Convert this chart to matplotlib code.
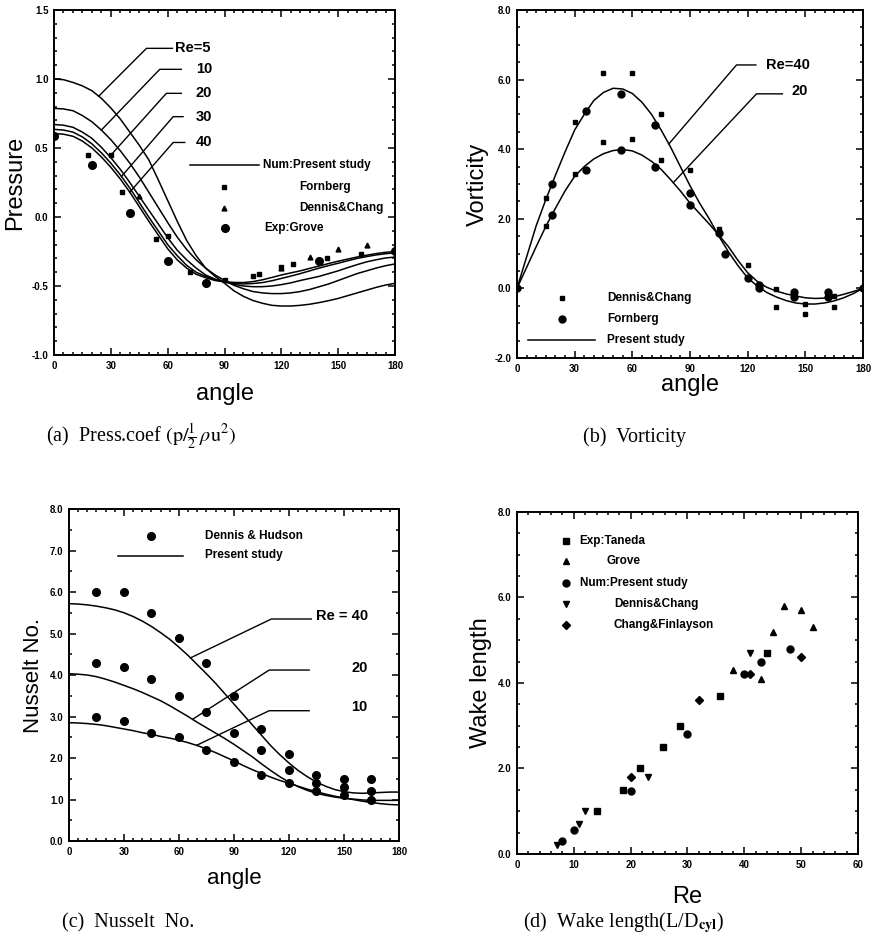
import matplotlib
matplotlib.use("Agg")
import matplotlib.pyplot as plt
from matplotlib.ticker import MultipleLocator, FormatStrFormatter
import numpy as np

plt.rcParams['font.family'] = ['Liberation Sans', 'DejaVu Sans']
plt.rcParams['mathtext.fontset'] = 'stix'

# angle grid used for all curves (every 5 deg)
angle = [0, 5, 10, 15, 20, 25, 30, 35, 40, 45, 50, 55, 60, 65, 70, 75, 80, 85, 90,
         95, 100, 105, 110, 115, 120, 125, 130, 135, 140, 145, 150, 155, 160, 165, 170, 175, 180]

# ---------------- (a) pressure coefficient ----------------
cp_labels = ['Re=5', '10', '20', '30', '40']
cp_re5 = [1.0, 0.995, 0.975, 0.95, 0.915, 0.86, 0.79, 0.71, 0.615, 0.52, 0.415, 0.27, 0.12, -0.03, -0.17, -0.28, -0.37, -0.43, -0.48,
          -0.535, -0.575, -0.605, -0.625, -0.64, -0.645, -0.645, -0.64, -0.632, -0.62, -0.606, -0.59, -0.57, -0.55, -0.53, -0.51, -0.493, -0.48]
cp_re10 = [0.787, 0.783, 0.77, 0.735, 0.69, 0.63, 0.56, 0.48, 0.39, 0.29, 0.18, 0.07, -0.04, -0.145, -0.235, -0.31, -0.37, -0.42, -0.46,
           -0.495, -0.52, -0.54, -0.55, -0.555, -0.555, -0.55, -0.54, -0.525, -0.505, -0.485, -0.46, -0.435, -0.41, -0.39, -0.37, -0.353, -0.34]
cp_re20 = [0.67, 0.665, 0.65, 0.615, 0.57, 0.505, 0.43, 0.345, 0.25, 0.15, 0.05, -0.05, -0.15, -0.24, -0.31, -0.37, -0.42, -0.45, -0.47,
           -0.488, -0.50, -0.505, -0.505, -0.50, -0.49, -0.477, -0.46, -0.445, -0.43, -0.41, -0.39, -0.367, -0.345, -0.325, -0.31, -0.297, -0.29]
cp_re30 = [0.635, 0.63, 0.615, 0.58, 0.53, 0.465, 0.39, 0.305, 0.21, 0.105, 0.0, -0.10, -0.20, -0.28, -0.35, -0.40, -0.43, -0.455, -0.47,
           -0.48, -0.485, -0.482, -0.475, -0.462, -0.445, -0.428, -0.41, -0.39, -0.37, -0.352, -0.335, -0.317, -0.30, -0.287, -0.275, -0.266, -0.26]
cp_re40 = [0.605, 0.60, 0.585, 0.55, 0.50, 0.435, 0.36, 0.275, 0.18, 0.075, -0.03, -0.13, -0.23, -0.31, -0.37, -0.415, -0.44, -0.46, -0.47,
           -0.474, -0.475, -0.468, -0.455, -0.438, -0.42, -0.405, -0.39, -0.372, -0.355, -0.337, -0.32, -0.305, -0.29, -0.277, -0.265, -0.256, -0.25]

forn_a_x = [18, 30, 36, 54, 60, 72, 90, 105, 108, 120, 126, 144, 162]
forn_a_y = [0.45, 0.45, 0.18, -0.16, -0.14, -0.40, -0.46, -0.43, -0.41, -0.36, -0.34, -0.30, -0.27]
dc_a_x = [45, 120, 135, 150, 165]
dc_a_y = [0.15, -0.37, -0.29, -0.23, -0.20]
grove_a_x = [0, 20, 40, 60, 80, 140, 180]
grove_a_y = [0.59, 0.38, 0.03, -0.32, -0.48, -0.32, -0.245]

# ---------------- (b) vorticity ----------------
vort_re40 = [0.0, 0.9, 1.8, 2.55, 3.25, 3.92, 4.55, 5.0, 5.4, 5.63, 5.75, 5.73, 5.6, 5.35, 5.0, 4.55, 4.05, 3.5, 2.95,
             2.45, 2.0, 1.5, 1.05, 0.65, 0.3, 0.07, -0.12, -0.25, -0.35, -0.42, -0.45, -0.45, -0.42, -0.36, -0.27, -0.15, 0.0]
vort_re20 = [0.0, 0.6, 1.2, 1.78, 2.3, 2.8, 3.22, 3.5, 3.72, 3.87, 3.96, 3.99, 3.95, 3.83, 3.65, 3.42, 3.12, 2.8, 2.45,
             2.15, 1.85, 1.53, 1.2, 0.8, 0.45, 0.2, 0.03, -0.08, -0.16, -0.22, -0.27, -0.29, -0.28, -0.24, -0.17, -0.09, 0.0]
dc_b_x = [15, 15, 30, 30, 45, 45, 60, 60, 75, 75, 90, 105, 120, 135, 135, 150, 150, 165, 165]
dc_b_y = [2.6, 1.8, 4.78, 3.28, 6.2, 4.2, 6.2, 4.3, 5.0, 3.7, 3.4, 1.7, 0.68, -0.02, -0.54, -0.44, -0.73, -0.21, -0.54]
forn_b_x = [0, 18, 18, 36, 36, 54, 54, 72, 72, 90, 90, 105, 108, 120, 126, 126, 144, 144, 162, 162, 180]
forn_b_y = [0.0, 3.0, 2.1, 5.1, 3.4, 5.58, 3.98, 4.7, 3.48, 2.75, 2.4, 1.6, 1.0, 0.3, 0.1, 0.0, -0.11, -0.24, -0.11, -0.24, 0.0]

# ---------------- (c) Nusselt number ----------------
nu_labels = ['Re = 40', '20', '10']
nu_re40 = [5.72, 5.71, 5.69, 5.66, 5.62, 5.57, 5.5, 5.41, 5.3, 5.17, 5.02, 4.86, 4.67, 4.47, 4.25, 4.03, 3.8, 3.55, 3.3,
           3.05, 2.8, 2.55, 2.3, 2.08, 1.88, 1.7, 1.55, 1.42, 1.32, 1.24, 1.19, 1.16, 1.15, 1.16, 1.17, 1.18, 1.18]
nu_re20 = [4.03, 4.02, 4.0, 3.96, 3.9, 3.83, 3.75, 3.67, 3.58, 3.48, 3.38, 3.26, 3.13, 3.0, 2.86, 2.73, 2.6, 2.47, 2.33,
           2.18, 2.03, 1.86, 1.7, 1.55, 1.42, 1.31, 1.22, 1.15, 1.1, 1.06, 1.03, 1.01, 0.99, 0.98, 0.98, 0.98, 0.98]
nu_re10 = [2.85, 2.845, 2.83, 2.81, 2.78, 2.74, 2.7, 2.66, 2.61, 2.57, 2.52, 2.48, 2.43, 2.37, 2.3, 2.22, 2.13, 2.03, 1.93,
           1.82, 1.72, 1.63, 1.54, 1.46, 1.39, 1.32, 1.25, 1.19, 1.13, 1.08, 1.04, 1.0, 0.96, 0.93, 0.9, 0.88, 0.87]
dh_angle = [15, 30, 45, 60, 75, 90, 105, 120, 135, 150, 165]
dh_re40 = [6.0, 6.0, 5.5, 4.9, 4.3, 3.5, 2.7, 2.1, 1.6, 1.5, 1.5]
dh_re20 = [4.3, 4.2, 3.9, 3.5, 3.1, 2.6, 2.2, 1.7, 1.4, 1.3, 1.2]
dh_re10 = [3.0, 2.9, 2.6, 2.5, 2.2, 1.9, 1.6, 1.4, 1.2, 1.1, 1.0]

# ---------------- (d) wake length ----------------
taneda_re = [14, 18.6, 21.6, 25.7, 28.7, 35.8, 44]
taneda_l = [1.0, 1.5, 2.0, 2.5, 3.0, 3.7, 4.7]
grove_re = [38, 43, 45, 47, 50, 52]
grove_l = [4.3, 4.1, 5.2, 5.8, 5.7, 5.3]
present_re = [8, 10, 20, 30, 40, 43, 48]
present_l = [0.3, 0.55, 1.47, 2.8, 4.2, 4.5, 4.8]
dc_re = [7, 11, 12, 23, 41]
dc_l = [0.2, 0.7, 1.0, 1.8, 4.7]
cf_re = [20, 32, 41, 50]
cf_l = [1.8, 3.6, 4.2, 4.6]

fig = plt.figure(figsize=(8.74, 9.5), dpi=100)
axA = fig.add_axes([0.0618, 0.6263, 0.3902, 0.3632])
axB = fig.add_axes([0.5915, 0.6232, 0.3959, 0.3663])
axC = fig.add_axes([0.0789, 0.1147, 0.3776, 0.3495])
axD = fig.add_axes([0.5915, 0.1011, 0.3902, 0.3600])

lab_fs = 17
leg_fs = 8.5
re_fs = 10.5


def style(ax, xmaj, xmin, ymaj, ymin, xfmt, yfmt):
    ax.xaxis.set_major_locator(MultipleLocator(xmaj))
    ax.xaxis.set_minor_locator(MultipleLocator(xmin))
    ax.yaxis.set_major_locator(MultipleLocator(ymaj))
    ax.yaxis.set_minor_locator(MultipleLocator(ymin))
    ax.xaxis.set_major_formatter(FormatStrFormatter(xfmt))
    ax.yaxis.set_major_formatter(FormatStrFormatter(yfmt))
    ax.tick_params(which='both', direction='in', top=True, right=True, width=1.1, labelsize=7, pad=4)
    ax.tick_params(which='major', length=5)
    ax.tick_params(which='minor', length=2.5)
    for sp in ax.spines.values():
        sp.set_linewidth(1.4)
    plt.setp(ax.get_xticklabels(), fontweight='bold')
    plt.setp(ax.get_yticklabels(), fontweight='bold')


def leader(ax, text, tx, ty, hx0, hx1, hy, px, curve, ha='right'):
    py = np.interp(px, angle, curve)
    ax.plot([hx1, hx0, px], [hy, hy, py], color='black', lw=1.0)
    ax.text(tx, ty, text, ha=ha, va='center', fontsize=re_fs, fontweight='bold')


# ---- panel (a)
for c in [cp_re5, cp_re10, cp_re20, cp_re30, cp_re40]:
    axA.plot(angle, c, color='black', lw=1.1)
axA.plot(forn_a_x, forn_a_y, 's', color='black', ms=3.2, ls='none')
axA.plot(dc_a_x, dc_a_y, '^', color='black', ms=3.5, ls='none')
axA.plot(grove_a_x, grove_a_y, 'o', color='black', ms=5.5, ls='none')
axA.set_xlim(0, 180)
axA.set_ylim(-1.0, 1.5)
style(axA, 30, 5, 0.5, 0.1, '%d', '%.1f')
axA.set_xlabel('angle', fontsize=lab_fs, labelpad=9)
axA.set_ylabel('Pressure', fontsize=lab_fs, labelpad=4)

leader(axA, cp_labels[0], 63.8, 1.222, 48.8, 62.5, 1.222, 23.6, cp_re5, ha='left')
leader(axA, cp_labels[1], 83.5, 1.07, 55.8, 67.2, 1.07, 25.0, cp_re10)
leader(axA, cp_labels[2], 83.5, 0.896, 59.3, 67.2, 0.896, 29.4, cp_re20)
leader(axA, cp_labels[3], 83.5, 0.727, 62.9, 68.1, 0.727, 35.6, cp_re30)
leader(axA, cp_labels[4], 83.5, 0.54, 62.9, 69.0, 0.54, 40.0, cp_re40)

axA.plot([0.40, 0.60], [0.551, 0.551], color='black', lw=1.1, transform=axA.transAxes)
axA.text(0.613, 0.551, 'Num:Present study', transform=axA.transAxes, va='center', fontsize=leg_fs, fontweight='bold')
axA.plot([0.498], [0.486], 's', color='black', ms=3.2, transform=axA.transAxes)
axA.text(0.719, 0.486, 'Fornberg', transform=axA.transAxes, va='center', fontsize=leg_fs, fontweight='bold')
axA.plot([0.498], [0.425], '^', color='black', ms=3.5, transform=axA.transAxes)
axA.text(0.719, 0.425, 'Dennis&Chang', transform=axA.transAxes, va='center', fontsize=leg_fs, fontweight='bold')
axA.plot([0.500], [0.369], 'o', color='black', ms=5.5, transform=axA.transAxes)
axA.text(0.616, 0.369, 'Exp:Grove', transform=axA.transAxes, va='center', fontsize=leg_fs, fontweight='bold')

# ---- panel (b)
axB.plot(angle, vort_re40, color='black', lw=1.1)
axB.plot(angle, vort_re20, color='black', lw=1.1)
axB.plot(dc_b_x, dc_b_y, 's', color='black', ms=3.0, ls='none')
axB.plot(forn_b_x, forn_b_y, 'o', color='black', ms=5.0, ls='none')
axB.set_xlim(0, 180)
axB.set_ylim(-2.0, 8.0)
style(axB, 30, 5, 2.0, 0.5, '%d', '%.1f')
axB.set_xlabel('angle', fontsize=lab_fs, labelpad=0)
axB.set_ylabel('Vorticity', fontsize=lab_fs, labelpad=4)

py40 = np.interp(79.0, angle, vort_re40)
axB.plot([124.3, 114.2, 79.0], [6.42, 6.42, py40], color='black', lw=1.0)
axB.text(129.5, 6.42, 'Re=40', va='center', fontsize=re_fs, fontweight='bold')
py20 = np.interp(81.3, angle, vort_re20)
axB.plot([138.1, 124.6, 81.3], [5.59, 5.59, py20], color='black', lw=1.0)
axB.text(151.4, 5.68, '20', ha='right', va='center', fontsize=re_fs, fontweight='bold')

axB.plot([0.13], [0.172], 's', color='black', ms=3.0, transform=axB.transAxes)
axB.text(0.26, 0.172, 'Dennis&Chang', transform=axB.transAxes, va='center', fontsize=leg_fs, fontweight='bold')
axB.plot([0.13], [0.112], 'o', color='black', ms=5.0, transform=axB.transAxes)
axB.text(0.26, 0.112, 'Fornberg', transform=axB.transAxes, va='center', fontsize=leg_fs, fontweight='bold')
axB.plot([0.031, 0.226], [0.051, 0.051], color='black', lw=1.1, transform=axB.transAxes)
axB.text(0.26, 0.051, 'Present study', transform=axB.transAxes, va='center', fontsize=leg_fs, fontweight='bold')

# ---- panel (c)
for c in [nu_re40, nu_re20, nu_re10]:
    axC.plot(angle, c, color='black', lw=1.1)
for d in [dh_re40, dh_re20, dh_re10]:
    axC.plot(dh_angle, d, 'o', color='black', ms=5.5, ls='none')
axC.set_xlim(0, 180)
axC.set_ylim(0, 8.0)
style(axC, 30, 5, 1.0, 0.5, '%d', '%.1f')
axC.set_xlabel('angle', fontsize=16, labelpad=8)
axC.set_ylabel('Nusselt No.', fontsize=16, labelpad=4)

leader(axC, nu_labels[0], 163, 5.43, 110.4, 132.2, 5.35, 66.3, nu_re40)
leader(axC, nu_labels[1], 163, 4.18, 109.2, 131.0, 4.12, 67.4, nu_re20)
leader(axC, nu_labels[2], 163, 3.22, 109.2, 131.0, 3.14, 69.6, nu_re10)

axC.plot([0.248], [0.92], 'o', color='black', ms=5.5, transform=axC.transAxes)
axC.text(0.412, 0.92, 'Dennis & Hudson', transform=axC.transAxes, va='center', fontsize=leg_fs, fontweight='bold')
axC.plot([0.149, 0.346], [0.859, 0.859], color='black', lw=1.1, transform=axC.transAxes)
axC.text(0.412, 0.862, 'Present study', transform=axC.transAxes, va='center', fontsize=leg_fs, fontweight='bold')

# ---- panel (d)
axD.plot(taneda_re, taneda_l, 's', color='black', ms=4.0, ls='none')
axD.plot(grove_re, grove_l, '^', color='black', ms=4.5, ls='none')
axD.plot(present_re, present_l, 'o', color='black', ms=5.0, ls='none')
axD.plot(dc_re, dc_l, 'v', color='black', ms=4.5, ls='none')
axD.plot(cf_re, cf_l, 'D', color='black', ms=3.8, ls='none')
axD.set_xlim(0, 60)
axD.set_ylim(0, 8.0)
style(axD, 10, 2, 2.0, 0.5, '%d', '%.1f')
axD.set_xlabel('Re', fontsize=lab_fs, labelpad=12)
axD.set_ylabel('Wake length', fontsize=lab_fs, labelpad=4)

leg_d = [('s', 4.0, 'Exp:Taneda', 0.182, 0.915),
         ('^', 4.5, 'Grove', 0.262, 0.857),
         ('o', 5.0, 'Num:Present study', 0.184, 0.793),
         ('v', 4.5, 'Dennis&Chang', 0.284, 0.730),
         ('D', 3.8, 'Chang&Finlayson', 0.284, 0.669)]
for mk, ms, txt, tx, ty in leg_d:
    axD.plot([0.143], [ty], mk, color='black', ms=ms, transform=axD.transAxes)
    axD.text(tx, ty, txt, transform=axD.transAxes, va='center', fontsize=leg_fs, fontweight='bold')

# ---- captions
cap = dict(fontsize=14.5, family=['Liberation Serif', 'DejaVu Serif'], va='center')
fig.text(0.053, 0.540, r'(a)  Press.coef $(\mathrm{p}/\frac{1}{2}\,\rho\mathrm{u}^{2})$', **cap)
fig.text(0.667, 0.540, '(b)  Vorticity', **cap)
fig.text(0.071, 0.029, '(c)  Nusselt  No.', **cap)
fig.text(0.598, 0.029, r'(d)  Wake length(L/D$_{\mathbf{cyl}}$)', **cap)

fig.savefig('out.png', dpi=100)
